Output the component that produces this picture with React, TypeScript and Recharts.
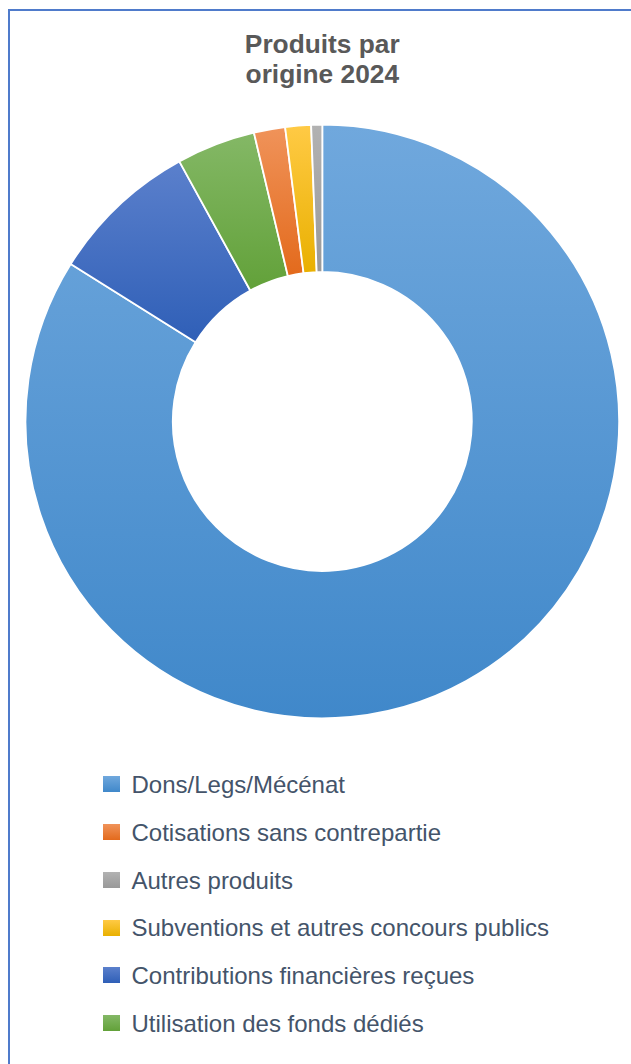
import React from 'react';
import { PieChart, Pie, Cell, Legend } from 'recharts';

const categories = [
  'Dons/Legs/Mécénat',
  'Contributions financières reçues',
  'Utilisation des fonds dédiés',
  'Cotisations sans contrepartie',
  'Subventions et autres concours publics',
  'Autres produits',
];
const values = [83.9, 8.1, 4.3, 1.7, 1.4, 0.6];
const legendOrder = [
  'Dons/Legs/Mécénat',
  'Cotisations sans contrepartie',
  'Autres produits',
  'Subventions et autres concours publics',
  'Contributions financières reçues',
  'Utilisation des fonds dédiés',
];
const titleLines = ['Produits par', 'origine 2024'];

const gradients: Record<string, [string, string]> = {
  'Dons/Legs/Mécénat': ['#70a8dd', '#4088ca'],
  'Contributions financières reçues': ['#5b80cc', '#2f5fb7'],
  'Utilisation des fonds dédiés': ['#84b866', '#62a139'],
  'Cotisations sans contrepartie': ['#f0935a', '#e36a1c'],
  'Subventions et autres concours publics': ['#ffca45', '#e9b000'],
  'Autres produits': ['#b2b2b2', '#999999'],
};

const data = categories.map((name, i) => ({ name, value: values[i] }));

const FONT = '"Liberation Sans", Arial, sans-serif';

function LegendContent() {
  return (
    <div style={{ fontFamily: FONT }}>
      {legendOrder.map((name) => {
        const [a, b] = gradients[name];
        return (
          <div key={name} style={{ position: 'relative', height: 47.8 }}>
            <div
              style={{
                position: 'absolute',
                left: 103,
                top: 15.2,
                width: 17,
                height: 16,
                background: `linear-gradient(${a}, ${b})`,
              }}
            />
            <div
              style={{
                position: 'absolute',
                left: 131.5,
                top: 0,
                lineHeight: '47.8px',
                fontSize: 24,
                color: '#44546a',
                whiteSpace: 'nowrap',
              }}
            >
              {name}
            </div>
          </div>
        );
      })}
    </div>
  );
}

export default function App() {
  return (
    <div
      style={{
        position: 'fixed',
        left: 0,
        top: 0,
        width: 631,
        height: 1064,
        overflow: 'hidden',
        background: '#ffffff',
        fontFamily: FONT,
      }}
    >
      <div
        style={{
          position: 'absolute',
          left: 8,
          top: 9,
          width: 700,
          height: 1200,
          border: '2px solid #4f7bcb',
          boxSizing: 'border-box',
        }}
      />
      <div
        style={{
          position: 'absolute',
          left: 0,
          top: 29.3,
          width: 644.6,
          textAlign: 'center',
          fontSize: 26.3,
          lineHeight: '30px',
          fontWeight: 'bold',
          color: '#595959',
        }}
      >
        {titleLines.map((l) => (
          <div key={l}>{l}</div>
        ))}
      </div>
      <div style={{ position: 'absolute', left: 0, top: 0 }}>
        <PieChart width={631} height={1064} margin={{ top: 0, right: 0, bottom: 0, left: 0 }}>
          <defs>
            {categories.map((name, i) => (
              <linearGradient key={name} id={`g${i}`} x1="0" y1="0" x2="0" y2="1">
                <stop offset="0%" stopColor={gradients[name][0]} />
                <stop offset="100%" stopColor={gradients[name][1]} />
              </linearGradient>
            ))}
          </defs>
          <Pie
            data={data}
            dataKey="value"
            nameKey="name"
            cx={322.3}
            cy={421.5}
            innerRadius={149.5}
            outerRadius={296.8}
            startAngle={90}
            endAngle={-270}
            stroke="#ffffff"
            strokeWidth={1.8}
            isAnimationActive={false}
          >
            {data.map((d, i) => (
              <Cell key={d.name} fill={`url(#g${i})`} />
            ))}
          </Pie>
          <Legend
            verticalAlign="bottom"
            content={() => <LegendContent />}
            wrapperStyle={{ top: 761, left: 0, bottom: 'auto', width: 631 }}
          />
        </PieChart>
      </div>
    </div>
  );
}
